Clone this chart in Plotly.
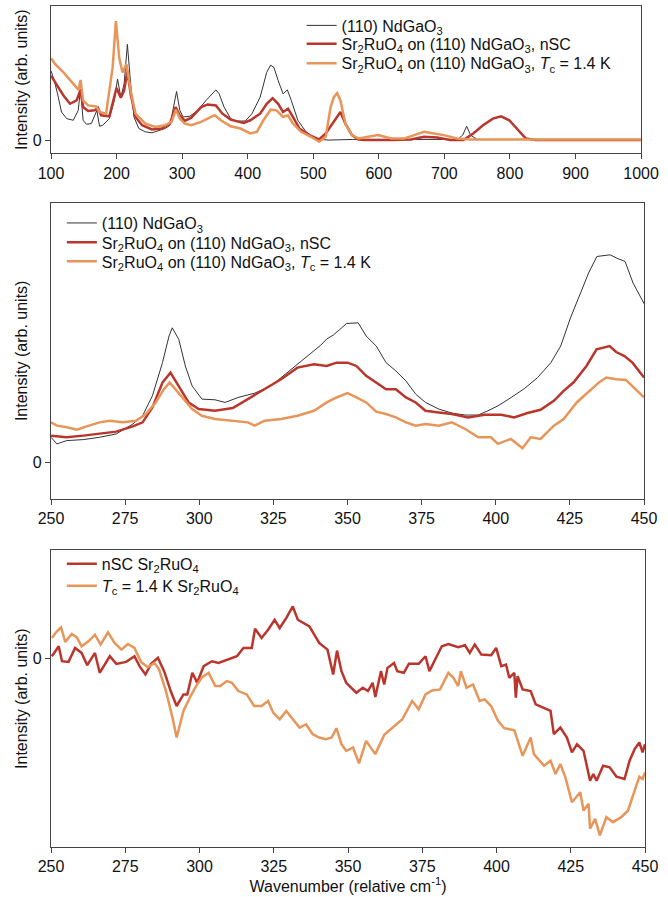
import plotly.graph_objects as go

# ---------------- Top panel (100-1000 cm-1) ----------------
top_ndgao3_x = [100, 105, 110, 116, 124, 134, 141.5, 145, 149, 154, 161.5, 170, 174, 179, 189, 196.5, 201.5, 206.5,
                211.5, 216.5, 221.5, 226.5, 234, 244, 254, 264, 274, 281.5, 288, 291.5, 296.5, 301.5, 311.5, 324,
                336.5, 344, 351.5, 356.5, 364, 374, 384, 396.5, 406.5, 419, 429, 435, 440, 446.5, 454, 460.5, 466.5,
                476.5, 489, 501.5, 511.5, 524, 560, 620, 680, 720, 728, 734, 740, 750, 800, 900, 1000]
top_ndgao3_y = [210, 180, 140, 85, 65, 60, 90, 155, 60, 48, 50, 90, 42, 45, 65, 120, 185, 130, 170, 290, 170, 70, 35,
                25, 22, 28, 35, 45, 110, 147, 90, 70, 72, 90, 120, 135, 152, 140, 100, 65, 57, 58, 80, 130, 205, 227,
                220, 180, 140, 152, 120, 60, 25, 7, 2, 0, 2, 2, 3, 2, 15, 42, 15, 2, 2, 2, 2]

top_nsc_x = [100, 109, 119, 129, 139, 145, 149, 156.5, 166.5, 171.5, 176.5, 189, 196.5, 200, 206.5, 211.5, 216.5,
             221.5, 229, 239, 254, 269, 281.5, 290, 296.5, 304, 314, 329, 339, 351.5, 361.5, 374, 394, 404, 419,
             429, 438, 446.5, 454, 461.5, 469, 479, 494, 509, 519, 529, 541.5, 549, 559, 569, 579, 619, 649, 669,
             689, 709, 729, 744, 759, 774, 786.5, 799, 814, 824, 839, 900, 1000]
top_nsc_y = [195, 165, 135, 110, 120, 152, 100, 88, 90, 98, 75, 72, 130, 158, 128, 150, 208, 140, 70, 45, 32, 35, 50,
             100, 75, 58, 68, 100, 108, 105, 80, 62, 52, 60, 80, 110, 127, 110, 85, 95, 70, 35, 15, 2, 20, 50, 85,
             50, 15, 2, 0, 0, 2, 10, 8, 0, 0, 20, 45, 65, 72, 60, 25, 5, 0, 0, 0]

top_tc_x = [100, 106.5, 119, 134, 142, 145, 149, 156.5, 169, 174, 184, 194, 199, 204, 209, 215, 221.5, 229, 244, 259,
            274, 284, 290.5, 296.5, 304, 314, 329, 344, 350, 359, 374, 389, 404, 414, 424, 435, 444, 454, 461.5,
            469, 481.5, 496.5, 509, 519, 526.5, 531.5, 536.5, 541.5, 549, 559, 569, 584, 599, 619, 639, 654, 669,
            684, 699, 719, 739, 800, 900, 1000]
top_tc_y = [248, 230, 205, 170, 152, 182, 120, 105, 102, 85, 80, 220, 360, 250, 205, 230, 150, 80, 50, 40, 45, 55,
            92, 65, 50, 45, 55, 70, 75, 60, 42, 35, 20, 25, 60, 92, 90, 70, 75, 50, 25, 10, -5, 10, 100, 130, 142,
            120, 50, 15, 5, 10, 15, 5, 5, 15, 25, 20, 15, 5, 2, 2, 2, 2]

# ---------------- Middle panel (250-450 cm-1) ----------------
mid_ndgao3_x = [250, 252, 255.3, 260.9, 266.4, 272, 277.6, 280.9, 284.2, 287.6, 289.8, 290.9, 293.1, 295.3, 297.6,
                300.9, 305.3, 308.7, 313.1, 318.7, 324.2, 329.8, 335.3, 340.9, 343.1, 345.2, 347.4, 349.7, 353.6,
                356.3, 359.7, 363, 366.3, 369.7, 373, 376.3, 380.8, 385.2, 389.7, 394.1, 397.4, 400.8, 405.2, 409.7,
                414.1, 418.6, 421.9, 425.2, 428.6, 431.3, 434.1, 438.6, 440.8, 443.6, 446.3, 450.2]
mid_ndgao3_y = [75, 55, 65, 68, 75, 85, 115, 140, 200, 300, 380, 405, 370, 290, 230, 190, 188, 180, 195, 208, 230,
                270, 310, 352, 372, 383, 400, 418, 420, 380, 350, 300, 275, 245, 205, 180, 160, 148, 142, 142, 155,
                170, 195, 222, 255, 300, 350, 435, 510, 570, 620, 625, 615, 605, 540, 475]

mid_nsc_x = [250, 255.3, 260.9, 266.4, 272, 277.6, 280.9, 284.2, 287.6, 290.3, 293.1, 296.4, 299.8, 305.3, 311.3,
             316.4, 322, 327.6, 333.1, 338.7, 343, 346.3, 350, 353, 356.3, 359.7, 363, 366.3, 369.7, 373, 376.3,
             380.8, 385.2, 390.7, 396.2, 401.8, 406.2, 410.7, 415.1, 419.6, 422.9, 426.2, 430.6, 434, 438.4, 440.6,
             443.4, 446.1, 450]
mid_nsc_y = [80, 75, 80, 85, 92, 108, 120, 165, 240, 270, 230, 180, 160, 155, 163, 190, 220, 250, 285, 295, 290,
             300, 300, 290, 260, 240, 220, 220, 195, 180, 155, 150, 145, 135, 143, 143, 135, 148, 158, 185, 215, 240,
             290, 340, 350, 332, 320, 300, 255]

mid_tc_x = [250, 252, 255.3, 258.7, 262, 266.4, 269.8, 274.2, 278.7, 282, 285.3, 288.1, 290, 292, 294.8, 297.6,
            300.9, 305.3, 310.9, 316.4, 318.7, 322, 327.6, 333.1, 338.7, 343, 346.3, 350, 353, 356.3, 359.7, 363,
            366.3, 369.7, 373, 376.3, 380.8, 385.2, 389.7, 394.1, 398.4, 400.7, 405.1, 409, 411.8, 415.1, 419.6,
            422.9, 427.3, 431.7, 435, 437.3, 440.6, 443.9, 447.2, 450]
mid_tc_y = [120, 110, 105, 98, 108, 120, 125, 120, 125, 145, 180, 220, 240, 220, 190, 160, 140, 130, 125, 120, 110,
            125, 130, 140, 155, 180, 195, 208, 195, 180, 152, 145, 135, 120, 110, 115, 110, 120, 100, 75, 75, 55, 70,
            42, 75, 70, 110, 130, 180, 215, 242, 255, 250, 248, 220, 195]

# ---------------- Bottom panel (difference spectra) ----------------
bot_nsc_x = [250.3, 252.6, 253.7, 255.9, 258.1, 260.3, 262.2, 264.8, 266.4, 269.8, 272, 275.3, 278.1, 279.8, 281.8,
             283.7, 286, 288.1, 290.3, 292.3, 294.6, 295.9, 297.6, 299.2, 301.4, 304.2, 306.4, 309.8, 312.6, 314.8,
             317.6, 318.7, 320.9, 323.1, 325.3, 327, 329.2, 331.4, 333.1, 337, 340.3, 343.1, 345, 346.3, 347.8,
             349.4, 352.8, 355, 356.7, 358.3, 359.2, 361.1, 362.2, 363.3, 365.5, 366.6, 368.8, 370.5, 373.8, 376.1,
             377.4, 379.9, 381.6, 383.8, 387.1, 389.4, 391, 392.7, 394.9, 398.2, 399.9, 401.6, 403.2, 404.3, 406,
             406.5, 407.1, 408.8, 411.5, 413.2, 416, 418.2, 419.3, 421.5, 423.7, 425.4, 427.1, 429.3, 431.5, 432.6,
             433.7, 435.9, 438.1, 440.4, 443.1, 444.8, 446.5, 448.1, 449.2, 450]
bot_nsc_y = [7, 37, -8, -10, 32, 17, -20, 17, -43, 7, -16, -10, 7, -23, -48, -16, 2, -38, -98, -143, -108, -108,
             -43, -73, -23, -8, -13, -3, 7, 32, 32, 90, 62, 87, 117, 92, 122, 157, 117, 97, 47, 27, -48, 24, -38,
             -73, -103, -88, -98, -73, -116, -38, -78, -28, -13, -38, -43, -16, -16, 7, -38, 7, 37, 44, 34, 40, 17,
             42, 12, 10, 32, -23, -18, -58, -43, -118, -53, -93, -98, -138, -148, -158, -228, -208, -238, -283,
             -258, -278, -368, -348, -368, -323, -328, -356, -363, -308, -273, -253, -283, -258]

bot_tc_x = [250.3, 252, 253.4, 254.8, 257, 258.7, 260.3, 262.6, 264.8, 266.7, 269.2, 271.4, 273.7, 275.9, 278.1,
            280.3, 282.6, 284.8, 286.4, 288.7, 290.9, 292.3, 294.6, 297, 299.2, 300.9, 303.1, 305.3, 307, 309.2,
            310.9, 313.1, 315.9, 318.4, 320.9, 323.1, 324.8, 327, 329.2, 331.4, 333.7, 335.9, 338.1, 340.3, 342.6,
            344.5, 346.1, 347.8, 349.4, 351.7, 353.7, 356.1, 359.2, 362.2, 365, 368.3, 371.6, 373.8, 376.1, 378.3,
            381, 383.8, 385.5, 387.1, 388, 389.9, 392.1, 394.3, 396, 398.2, 400.4, 402.6, 406, 408.8, 411.5, 412.6,
            416, 418.2, 419.9, 421.5, 423.2, 425.4, 428.2, 429.3, 431, 431.5, 433.2, 434.8, 437, 439.2, 442, 444.3,
            446.5, 448.1, 449.2, 450]
bot_tc_y = [62, 82, 94, 50, 74, 64, 37, 52, 72, 42, 79, 47, 27, 44, 32, -10, -26, -13, -33, -98, -178, -238, -158,
            -113, -78, -56, -43, -83, -83, -68, -73, -98, -108, -143, -143, -128, -163, -183, -158, -183, -208, -198,
            -228, -238, -243, -238, -210, -258, -278, -268, -316, -248, -288, -230, -208, -183, -128, -153, -108,
            -96, -93, -43, -58, -83, -38, -88, -78, -128, -123, -143, -186, -210, -216, -293, -238, -288, -323,
            -308, -348, -318, -358, -433, -403, -458, -438, -513, -483, -533, -478, -493, -478, -458, -398, -356,
            -363, -343]

top_ticks = [100, 200, 300, 400, 500, 600, 700, 800, 900, 1000]
zoom_ticks = [250, 275, 300, 325, 350, 375, 400, 425, 450]

BLACK = "#333333"
RED = "#BA352C"
ORANGE = "#E8955A"

lbl_sub = "(110) NdGaO<sub>3</sub>"
lbl_nsc = "Sr<sub>2</sub>RuO<sub>4</sub> on (110) NdGaO<sub>3</sub>, nSC"
lbl_tc = "Sr<sub>2</sub>RuO<sub>4</sub> on (110) NdGaO<sub>3</sub>, <i>T</i><sub>c</sub> = 1.4 K"
lbl_dnsc = "nSC Sr<sub>2</sub>RuO<sub>4</sub>"
lbl_dtc = "<i>T</i><sub>c</sub> = 1.4 K Sr<sub>2</sub>RuO<sub>4</sub>"

# figure fills the whole 668x897 window (body margin removed below)
W, H = 668, 897
ML, MR, MT, MB = 51, 15, 5, 47
PW = W - ML - MR
PH = H - MT - MB

def ydom(top_px, bot_px):
    return [(H - MB - bot_px) / PH, (H - MB - top_px) / PH]

def xpos(px):
    return (px - ML) / PW

def ypos(px):
    return (H - MB - px) / PH

fig = go.Figure()

# each legend row is its own legend so the row spacing can follow the reference
entries = [
    (top_ndgao3_x, top_ndgao3_y, lbl_sub, BLACK, 1.0, "x", "y", 305, 25),
    (top_nsc_x, top_nsc_y, lbl_nsc, RED, 2.5, "x", "y", 305, 43.5),
    (top_tc_x, top_tc_y, lbl_tc, ORANGE, 2.5, "x", "y", 305, 63),
    (mid_ndgao3_x, mid_ndgao3_y, lbl_sub, BLACK, 1.0, "x2", "y2", 62, 223.5),
    (mid_nsc_x, mid_nsc_y, lbl_nsc, RED, 2.5, "x2", "y2", 62, 243),
    (mid_tc_x, mid_tc_y, lbl_tc, ORANGE, 2.5, "x2", "y2", 62, 262),
    (bot_nsc_x, bot_nsc_y, lbl_dnsc, RED, 2.5, "x3", "y3", 62, 566),
    (bot_tc_x, bot_tc_y, lbl_dtc, ORANGE, 2.5, "x3", "y3", 62, 588),
]

FONT = "Liberation Sans, Arial, Helvetica, sans-serif"
legend_layout = {}
for i, (x, y, name, color, width, xa, ya, lx, row_y) in enumerate(entries):
    key = "legend" if i == 0 else f"legend{i + 1}"
    fig.add_trace(go.Scatter(x=x, y=y, name=name, mode="lines",
                             line=dict(color=color, width=width),
                             xaxis=xa, yaxis=ya, legend=key))
    legend_layout[key] = dict(x=xpos(lx), y=ypos(row_y - 17.5), xanchor="left", yanchor="top",
                              bgcolor="rgba(0,0,0,0)", font=dict(size=16, family=FONT), itemwidth=30)

axcommon = dict(showline=True, linecolor="#444444", linewidth=1.2, mirror=True, ticks="outside",
                ticklen=5, tickcolor="#444444", showgrid=False, zeroline=False,
                tickfont=dict(size=16, color="#111111"))
ytitle = dict(text="Intensity (arb. units)", font=dict(size=16), standoff=1)

fig.update_layout(
    width=W, height=H,
    margin=dict(l=ML, r=MR, t=MT, b=MB),
    paper_bgcolor="white", plot_bgcolor="white",
    font=dict(family=FONT, size=16, color="#111111"),
    showlegend=True,
    xaxis=dict(domain=[0, xpos(649)], range=[100, 1000], tickvals=top_ticks, anchor="y", **axcommon),
    yaxis=dict(domain=ydom(5, 153), range=[-40, 406], tickvals=[0], anchor="x", title=ytitle, **axcommon),
    xaxis2=dict(domain=[0, xpos(652)], range=[250, 450], tickvals=zoom_ticks, anchor="y2", **axcommon),
    yaxis2=dict(domain=ydom(203, 500), range=[-110, 781], tickvals=[0], anchor="x2", title=ytitle, **axcommon),
    xaxis3=dict(domain=[0, 1], range=[250, 450], tickvals=zoom_ticks, anchor="y3",
                title=dict(text="Wavenumber (relative cm<sup>-1</sup>)", font=dict(size=16), standoff=6),
                **axcommon),
    yaxis3=dict(domain=ydom(552, 850), range=[-568, 326], tickvals=[0], anchor="x3", title=ytitle, **axcommon),
    **legend_layout,
)

fig.write_html("out.html", config={"displayModeBar": False},
               post_script="document.body.style.margin='0px';")
